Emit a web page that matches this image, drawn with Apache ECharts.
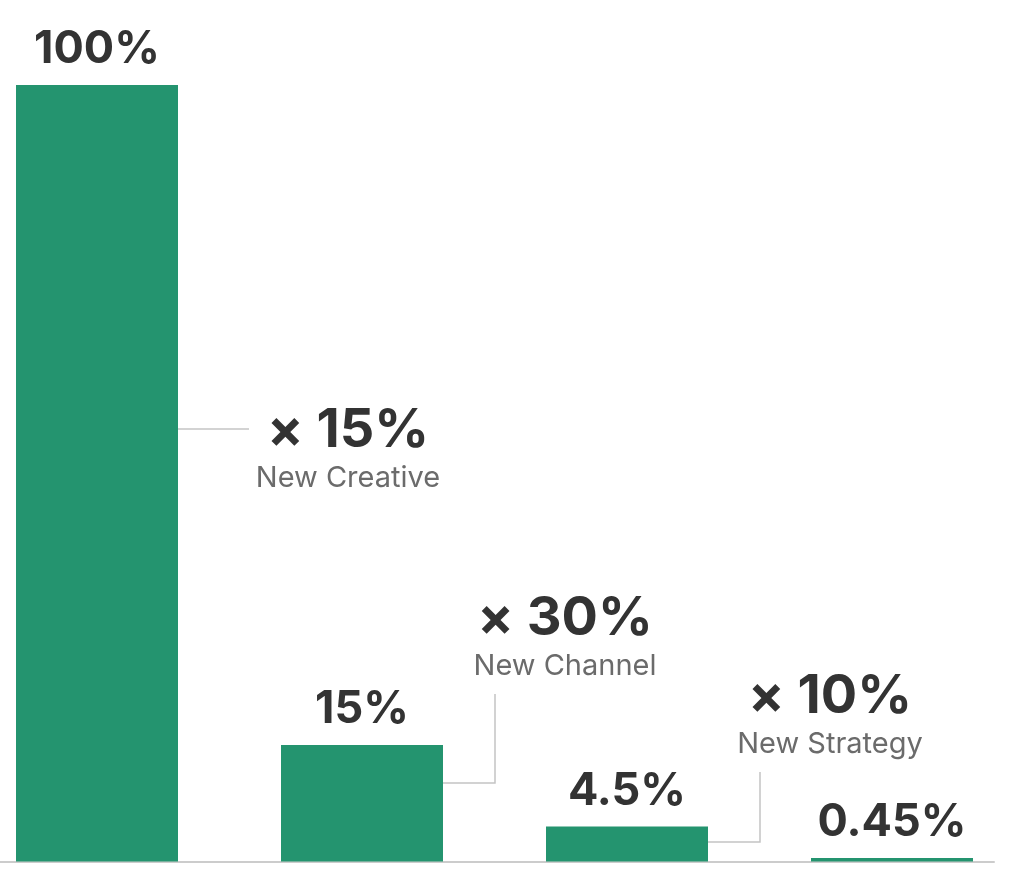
<!DOCTYPE html>
<html>
<head>
<meta charset="utf-8">
<script src="https://cdn.jsdelivr.net/npm/echarts@6/dist/echarts.min.js"></script>
<style>
html,body{margin:0;padding:0;background:#fff;}
#chart{width:1015px;height:883px;}
</style>
</head>
<body>
<div id="chart"></div>
<script>
// ---- data ----
var categories = ['Start', 'After Creative', 'After Channel', 'After Strategy'];
var values = [100, 15, 4.5, 0.45];
var valueLabels = ['100%', '15%', '4.5%', '0.45%'];
var multipliers = ['× 15%', '× 30%', '× 10%'];
var stepNames = ['New Creative', 'New Channel', 'New Strategy'];
var connectorValues = [55.7, 10.1, 2.5];

var FONT = 'Inter, "Noto Sans", sans-serif';
var GREEN = '#24946f';

var chart = echarts.init(document.getElementById('chart'), null, {renderer: 'canvas'});

var barData = values.map(function (v, i) {
  return {value: [i, v], label: {formatter: valueLabels[i]}};
});
var annoData = connectorValues.map(function (v, i) { return [i, v]; });

var option = {
  backgroundColor: '#ffffff',
  animation: false,
  grid: {left: 0, right: 21, top: 85, bottom: 21.5, containLabel: false},
  xAxis: {
    type: 'value',
    min: -97 / 265,
    max: -97 / 265 + 994 / 265,
    axisLine: {show: true, onZero: false, lineStyle: {color: '#cccccc', width: 2}},
    axisTick: {show: false},
    axisLabel: {show: false},
    splitLine: {show: false}
  },
  yAxis: {
    type: 'value',
    min: 0,
    max: 100,
    axisLine: {show: false},
    axisTick: {show: false},
    axisLabel: {show: false},
    splitLine: {show: false}
  },
  series: [
    {
      type: 'bar',
      data: barData,
      barWidth: 162,
      itemStyle: {color: GREEN},
      label: {
        show: true,
        position: 'top',
        distance: 13,
        color: '#333333',
        fontFamily: FONT,
        fontWeight: 'bold',
        fontSize: 45
      },
      z: 2
    },
    {
      type: 'custom',
      data: annoData,
      renderItem: function (params, api) {
        var i = api.value(0);
        var v = api.value(1);
        var halfBand = 81;
        var p = api.coord([i, v]);
        var x0 = p[0] + halfBand;
        var y0 = p[1];
        var children = [];
        var lineStyle = {stroke: '#c4c4c4', lineWidth: 1.5, fill: null};
        var cx, cyTop;
        if (i === 0) {
          children.push({type: 'polyline', shape: {points: [[x0, y0], [x0 + 71, y0]]}, style: lineStyle});
          cx = x0 + 170;
          cyTop = y0 + 2;
        } else {
          var lx = x0 + 52;
          var top = (i === 1) ? y0 - 89 : y0 - 70;
          children.push({type: 'polyline', shape: {points: [[x0, y0], [lx, y0], [lx, top]]}, style: lineStyle});
          cx = x0 + 122;
          cyTop = top - 75;
        }
        children.push({
          type: 'text',
          style: {
            text: multipliers[i], x: cx, y: cyTop, align: 'center', verticalAlign: 'middle',
            fill: '#333333', font: 'bold 54px ' + FONT
          }
        });
        children.push({
          type: 'text',
          style: {
            text: stepNames[i], x: cx, y: cyTop + 47, align: 'center', verticalAlign: 'middle',
            fill: '#6b6b6b', font: '29px ' + FONT
          }
        });
        return {type: 'group', children: children};
      },
      z: 3
    }
  ]
};
chart.setOption(option);
</script>
</body>
</html>
